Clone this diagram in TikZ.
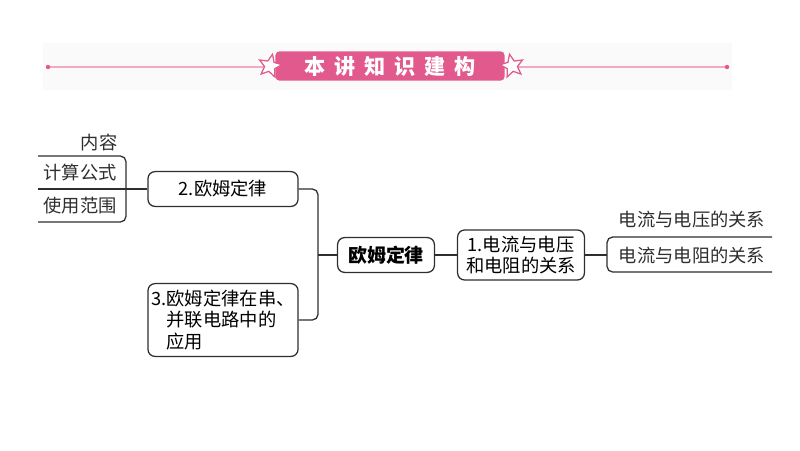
\documentclass[tikz,border=0pt]{standalone}
\usepackage{fontspec}
\setmainfont{Noto Sans CJK SC}
\usepackage{xcolor}
\usetikzlibrary{shapes.geometric, positioning, calc}

\definecolor{bannerpink}{HTML}{E2598D}
\definecolor{linepink}{HTML}{F2A9C6}
\definecolor{inkgray}{HTML}{2E2E2E}

\tikzset{
    box/.style={draw=inkgray, line width=0.9pt, rounded corners=5pt, align=center,
        font=\fontsize{13}{15.5}\selectfont, inner sep=2pt},
    leaf/.style={font=\fontsize{13}{15.5}\selectfont, inner sep=1pt, text=inkgray},
    wire/.style={draw=inkgray, line width=0.9pt, rounded corners=4pt},
    starmark/.style={star, star points=5, star point ratio=2.2, minimum size=0.6cm,
        inner sep=0pt, fill=white, draw=bannerpink, line width=0.9pt}
}

\begin{document}
\begin{tikzpicture}[x=0.025cm, y=-0.025cm]
    \useasboundingbox (0,0) rectangle (800,450);

    % title banner
    \fill[gray!4] (43,43) rectangle (732,90);
    \draw[linepink, line width=1.2pt] (48,67) -- (727,67);
    \fill[bannerpink] (48,67) circle (2.2) (727,67) circle (2.2);
    \node[fill=bannerpink, rounded corners=3pt, minimum width=5.73cm, minimum height=0.72cm,
        text=white, font=\fontsize{15}{17}\selectfont\bfseries] (title) at (390,66)
        {本\hspace{0.42em}讲\hspace{0.42em}知\hspace{0.42em}识\hspace{0.42em}建\hspace{0.42em}构};
    \node[starmark, rotate=-12] (lstar) at (270,66) {};
    \node[starmark, rotate=12] (rstar) at (512,66) {};

    % centre
    \node[box, minimum width=2.42cm, minimum height=0.87cm,
        font=\fontsize{13.5}{15}\selectfont\bfseries] (ohm) at (386,255) {欧姆定律};
    \coordinate (hub) at (318,255);

    % left side
    \node[box, minimum width=3.75cm, minimum height=0.87cm] (law2) at (223,189) {2.欧姆定律};
    \node[box, minimum width=3.75cm, minimum height=1.82cm, align=left] (law3) at (223,320)
        {3.欧姆定律在串、\\\hphantom{3.}并联电路中的\\\hphantom{3.}应用};
    \node[leaf] (cont) at (99,142) {内容};
    \node[leaf] (calc) at (80,173) {计算公式};
    \node[leaf] (scope) at (80,206) {使用范围};
    \coordinate (lend) at (38,189);

    \draw[wire] (38,156) -| (126,222) -- (38,222);
    \draw[wire] (law2.west) -- (lend);
    \draw[wire] (law2.east) -| (hub) |- (law3.east);
    \draw[wire] (hub) -- (ohm.west);

    % right side
    \node[box, minimum width=3.17cm, minimum height=1.25cm] (rel) at (521,255)
        {1.电流与电压\\和电阻的关系};
    \node[leaf] (vu) at (692,220) {电流与电压的关系};
    \node[leaf] (vr) at (692,255) {电流与电阻的关系};
    \coordinate (rend) at (607,255);

    \draw[wire] (ohm.east) -- (rel.west);
    \draw[wire] (rel.east) -- (rend);
    \draw[wire] (772,237) -| (607,272) -- (772,272);
\end{tikzpicture}
\end{document}
